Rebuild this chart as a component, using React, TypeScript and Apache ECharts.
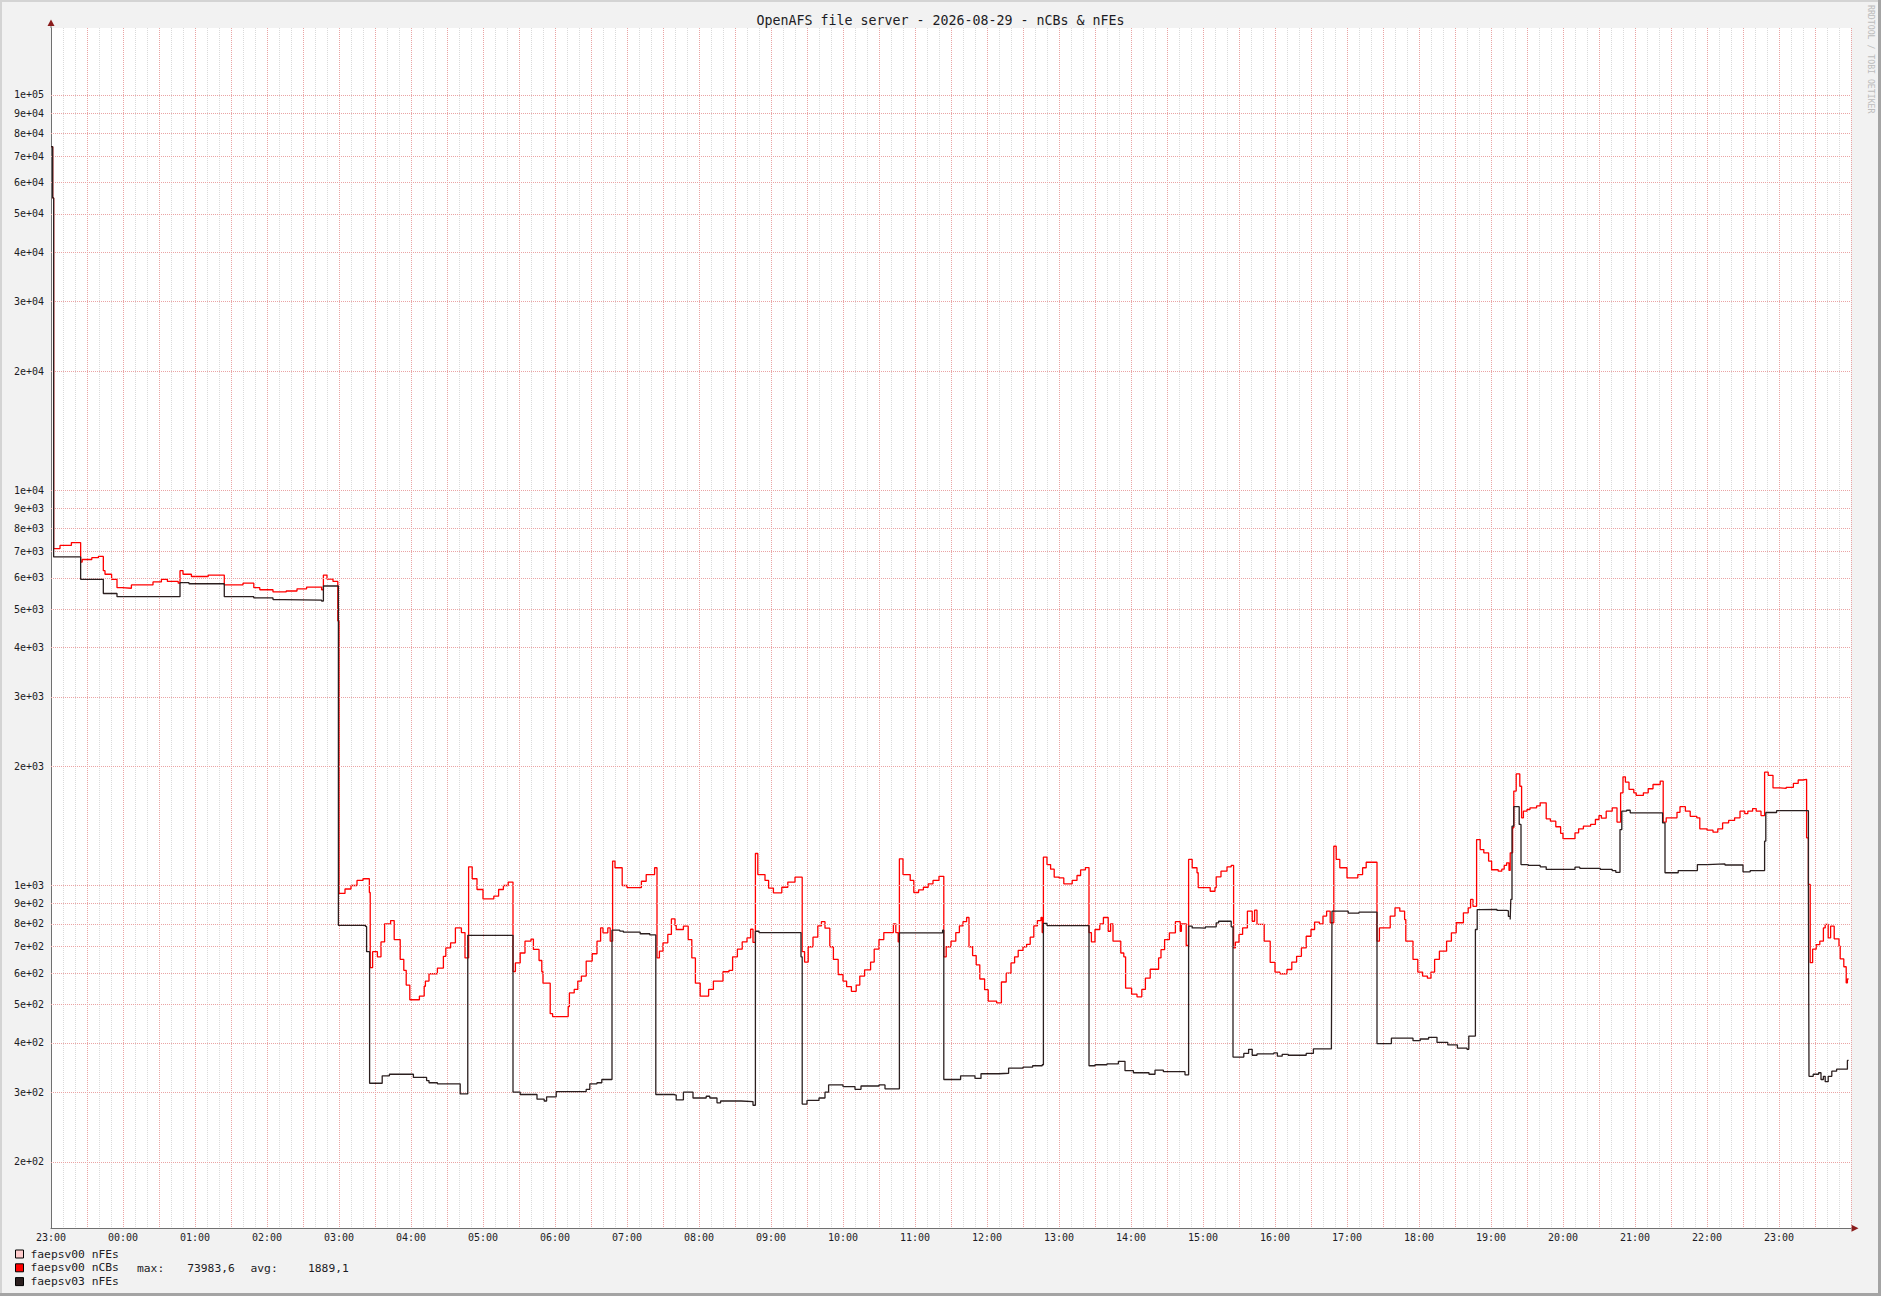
import React, { useEffect, useRef } from 'react';
import * as echarts from 'echarts';

const TITLE = 'OpenAFS file server - 2026-08-29 - nCBs & nFEs';
const WATERMARK = 'RRDTOOL / TOBI OETIKER';

// x axis: minutes since 23:00 of the previous day (25 hours shown)
const X_MIN = 0;
const X_MAX = 1500;
const HOUR_LABELS = [
  '23:00', '00:00', '01:00', '02:00', '03:00', '04:00', '05:00', '06:00', '07:00',
  '08:00', '09:00', '10:00', '11:00', '12:00', '13:00', '14:00', '15:00', '16:00',
  '17:00', '18:00', '19:00', '20:00', '21:00', '22:00', '23:00',
];

const Y_MIN = 136;
const Y_MAX = 147700;
const Y_TICKS = [
  200, 300, 400, 500, 600, 700, 800, 900,
  1000, 2000, 3000, 4000, 5000, 6000, 7000, 8000, 9000,
  10000, 20000, 30000, 40000, 50000, 60000, 70000, 80000, 90000,
  100000,
];
const Y_TICK_LABELS = [
  '2e+02', '3e+02', '4e+02', '5e+02', '6e+02', '7e+02', '8e+02', '9e+02',
  '1e+03', '2e+03', '3e+03', '4e+03', '5e+03', '6e+03', '7e+03', '8e+03', '9e+03',
  '1e+04', '2e+04', '3e+04', '4e+04', '5e+04', '6e+04', '7e+04', '8e+04', '9e+04',
  '1e+05',
];

const SERIES_NAMES = ['faepsv00 nFEs', 'faepsv00 nCBs', 'faepsv03 nFEs'];
const SERIES_COLORS = ['#ffcccc', '#ff0000', '#2b1f1f'];
const NCBS_MAX = '73983,6';
const NCBS_AVG = '1889,1';

// [minute, value]
const FAEPSV00_NFES: [number, number][] = [];

const FAEPSV00_NCBS: [number, number][] = [
  [0, 73984], [1.4, 54900], [2.2, 7120], [7.5, 7250], [17, 7370], [24.7, 6580], [26, 6680],
  [34, 6750], [39.5, 6800], [43.6, 6258], [45, 6130], [50.5, 5950], [55, 5670], [59, 5650],
  [67, 5760], [85, 5860], [92, 5950], [97, 5880], [106, 5820], [107.5, 6260], [110, 6130],
  [117, 6050], [131, 6100], [144.4, 5760], [160, 5820], [169, 5670], [174, 5600], [185, 5530],
  [196, 5560], [205, 5630], [213, 5690], [225.5, 5600], [227, 6100], [230, 5960], [235, 5880],
  [239, 4670],
  [240, 955], [245, 980], [250, 1000], [255, 1030], [260, 1040], [265.3, 960], [266, 620],
  [268, 680], [272, 660], [275, 720], [278, 800], [283, 815], [286, 730], [291, 650], [294, 610],
  [296, 560], [299, 514], [307, 525], [311, 556], [312, 573], [315, 598], [322, 618], [327, 662],
  [329, 695], [333, 716], [337, 781], [342, 760], [345, 656], [348, 1115], [351, 1040], [355, 977],
  [360, 925], [369, 940], [373, 977], [377, 1000], [381, 1020], [385, 606], [387, 637], [391, 675],
  [395, 723], [400, 732], [402, 689], [406.7, 646], [409, 605], [410, 566], [416, 474], [418, 466],
  [431, 494], [432, 535], [436, 546], [439, 573], [442, 590], [446, 644], [451, 672], [455, 723],
  [458, 781], [460, 759], [464, 781], [466, 723], [468, 1153], [470, 1109], [476, 1000], [480, 988],
  [492, 1025], [496, 1066], [503, 1109], [505, 656], [507, 682], [510, 716], [514, 752], [517, 823],
  [520, 793], [521, 774], [527, 789], [531, 730], [534, 656], [537, 566], [541, 525], [548, 546],
  [552, 573], [560, 605],
  [565, 610], [568, 660], [572, 690], [576, 720], [580, 737], [583, 775], [585, 718], [587, 1205],
  [589, 1066], [595, 1030], [598, 985], [602, 958], [609, 990], [614, 1020], [620, 1050], [626, 680],
  [628, 640], [631, 700], [635, 740], [639, 790], [642, 810], [645, 780], [649, 700], [652, 650],
  [656, 595], [660, 573], [663, 555], [667, 540], [671, 560], [674, 590], [678, 612], [683, 640],
  [686, 690], [690, 730], [694, 760], [702, 800], [704, 760], [706, 720], [707, 1168], [710, 1066],
  [716, 1030], [719, 960], [723, 975], [727, 990], [731, 1010], [735, 1030], [740, 1055], [744, 660],
  [746, 700], [750, 723], [754, 760], [757, 790], [760, 810], [763, 830], [765, 700], [768, 665],
  [771, 630], [774, 580], [778, 545], [781, 510], [788, 505], [792, 570], [796, 600], [800, 637],
  [803, 660], [806, 685], [810, 700], [813, 710], [816, 740], [819, 790], [822, 815], [825, 830],
  [826, 760], [827, 1180], [830, 1130], [833, 1100], [836, 1050], [840, 1045], [844, 1010],
  [851, 1030], [855, 1060], [858, 1095], [862, 1110], [865, 760], [867, 720], [870, 774], [874, 800],
  [877, 830],
  [881, 766], [883, 800], [885, 723], [891.5, 675], [894, 660], [895.5, 550], [900.5, 531],
  [905, 523], [909, 546], [912, 583], [916, 614], [923, 656], [925, 688], [928, 730], [932, 759],
  [937, 810], [941, 766], [942, 800], [946, 705], [948, 1164], [951, 1109], [955, 1077], [956, 988],
  [966, 967], [970, 988], [971, 1052], [975, 1087], [980, 1115], [983.5, 1124], [985.5, 695],
  [987, 719], [990, 752], [993, 781], [997, 861], [1001, 812], [1003, 866], [1005, 797], [1011, 723],
  [1016, 639], [1020, 604], [1024, 598], [1030, 613], [1034, 640], [1038, 662], [1042, 695],
  [1046, 744], [1050, 774], [1053, 808], [1057, 800], [1060, 837], [1063, 861], [1066, 805],
  [1069, 1257], [1071, 1164], [1074, 1109], [1080, 1045], [1089, 1066], [1093, 1109], [1096, 1145],
  [1105, 723], [1107, 781], [1116, 837], [1120, 878], [1124, 861], [1128, 820], [1129, 723],
  [1135, 650], [1139, 604], [1143, 590], [1147, 583], [1150, 604], [1153, 650], [1157, 682],
  [1163, 723], [1167, 759], [1171, 805], [1177, 853], [1181, 878], [1183, 922], [1185, 886],
  [1188, 1307], [1191, 1233], [1194, 1210], [1198, 1153], [1200.5, 1096], [1206, 1087], [1209, 1100],
  [1211, 1124], [1213, 1141], [1215, 1092], [1216, 1210], [1218, 1400], [1219, 1733], [1221, 1916],
  [1224, 1783], [1225.5, 1483], [1227, 1542], [1230, 1557], [1232.5, 1572], [1238, 1590],
  [1241, 1619], [1246, 1475], [1249.5, 1455], [1254, 1408], [1258, 1355], [1260, 1314], [1270, 1359],
  [1273, 1391], [1277, 1413], [1283, 1427], [1287, 1469], [1290, 1503], [1292, 1480], [1296, 1542],
  [1301, 1572], [1305, 1447], [1308, 1716], [1310, 1883], [1312, 1826], [1315, 1750], [1319, 1716],
  [1321, 1690], [1327, 1716], [1331, 1757], [1335, 1801], [1341, 1836], [1343.5, 1447], [1346, 1483],
  [1355, 1532], [1357.5, 1583], [1362, 1542], [1366, 1496], [1371.5, 1483], [1374, 1391],
  [1380, 1380], [1385, 1364], [1389, 1391], [1393, 1440], [1398, 1461], [1403, 1483], [1407.5, 1542],
  [1411.5, 1520], [1414, 1542], [1418, 1565], [1421, 1542], [1425, 1503], [1428, 1935], [1431, 1900],
  [1435, 1766], [1441, 1760], [1446, 1772], [1452, 1812], [1456, 1849], [1460, 1856], [1463, 1320],
  [1464.5, 1006], [1466, 638], [1468, 690], [1471, 709], [1474, 723], [1477, 781], [1478.5, 797],
  [1481, 737], [1483, 789], [1486, 733], [1490, 702], [1491, 652], [1494, 623], [1496, 567],
  [1497, 580], [1498, 580],
];

const FAEPSV03_NFES: [number, number][] = [
  [0, 73984], [1.4, 54900], [2.2, 6780], [24.7, 5950], [43.6, 5480], [55, 5380], [107.5, 5835],
  [115, 5800], [144.4, 5380], [169, 5340], [185, 5290], [194, 5270], [225.5, 5246], [227, 5725],
  [239.5, 793],
  [262, 788], [263, 680], [265.5, 316], [276, 330], [282, 333], [302, 327], [313, 321], [315, 317],
  [322, 315], [341, 297], [347.3, 748], [385, 300], [391, 296], [405, 288], [411, 285], [413, 292],
  [421, 301], [446, 305], [449, 315], [455, 317], [459, 323], [467.5, 771], [474, 767], [477, 762],
  [491, 755], [499, 750], [504, 296], [519, 295], [521, 287], [527, 300], [535, 290], [546, 293],
  [549, 290], [555, 282], [558, 285],
  [575, 284], [585, 278], [587, 766], [590, 760], [625, 660], [626, 280], [630, 286], [640, 290],
  [645, 300], [648, 313], [660, 310], [670, 305], [675, 311], [690, 313], [695, 306], [707, 759],
  [743, 771], [744, 323], [758, 330], [770, 325], [775, 334], [790, 335], [798, 345], [810, 347],
  [818, 350], [826, 352], [827, 802], [830, 792], [865, 350], [870, 352], [880, 354],
  [889.5, 359], [895, 340], [902, 336], [915, 333], [920, 341], [927, 338], [945, 332], [948, 789],
  [951, 781], [957, 780], [962, 786], [971, 804], [973, 812], [983.5, 786], [985, 368], [994, 376],
  [998, 385], [1001, 372], [1005, 375], [1019, 377], [1022, 370], [1026, 374], [1031, 372],
  [1046, 376], [1052, 386], [1067, 395], [1067.5, 861], [1081, 851], [1090, 856], [1105, 398],
  [1117, 411], [1135, 405], [1141, 409], [1148, 413], [1155, 401], [1164, 395], [1172, 388],
  [1180, 385], [1181.5, 416], [1187, 774], [1188.5, 869],
  [1191, 870], [1205, 865], [1213, 863], [1214.5, 835], [1216, 820], [1216.5, 922], [1217.5, 1413],
  [1219, 1583], [1223.5, 1427], [1225, 1130], [1231, 1124], [1241, 1115], [1246, 1098], [1270, 1113],
  [1274, 1105], [1291, 1098], [1301, 1091], [1304, 1080], [1307.5, 1385], [1309, 1542], [1313, 1550],
  [1316, 1527], [1343, 1440], [1345, 1077], [1356, 1091], [1372, 1130], [1380, 1134], [1395, 1127],
  [1410, 1083], [1416, 1091], [1428, 1295], [1429, 1530], [1438, 1546], [1464.5, 1002], [1465, 329],
  [1468.5, 333], [1473, 336], [1475, 323], [1477, 329], [1478.5, 319], [1481, 329], [1484, 339],
  [1488, 343], [1497, 361], [1498, 361],
];

const MONO = '"DejaVu Sans Mono", "Liberation Mono", monospace';
const TEXT_COLOR = '#1c1c24';
const MAJOR_GRID = '#eaa4a4';
const MINOR_GRID = '#dadada';
const AXIS_COLOR = '#707070';
const ARROW_COLOR = '#8a1c1c';

export default function App() {
  const ref = useRef<HTMLDivElement>(null);

  useEffect(() => {
    if (!ref.current) return;
    const chart = echarts.init(ref.current, null, { renderer: 'svg' });

    const dataSeries = [FAEPSV00_NFES, FAEPSV00_NCBS, FAEPSV03_NFES].map((d, i) => ({
      name: SERIES_NAMES[i],
      type: 'line',
      step: 'end',
      data: d,
      showSymbol: false,
      symbol: 'none',
      silent: true,
      color: SERIES_COLORS[i],
      lineStyle: { width: 1.3, color: SERIES_COLORS[i] },
      emphasis: { disabled: true },
      z: 3 + i,
    }));

    const option = {
      animation: false,
      backgroundColor: '#f2f2f2',
      title: {
        text: TITLE,
        left: 'center',
        top: 9,
        textStyle: { fontFamily: MONO, fontSize: 13.3, fontWeight: 'normal', color: TEXT_COLOR },
      },
      grid: {
        left: 51,
        top: 28,
        right: 30,
        bottom: 68,
        show: true,
        backgroundColor: '#ffffff',
        borderWidth: 0,
      },
      legend: {
        orient: 'vertical',
        left: 15,
        top: 1248,
        padding: 0,
        height: 44,
        itemWidth: 8,
        itemHeight: 8,
        itemGap: 1.8,
        icon: 'rect',
        selectedMode: false,
        data: SERIES_NAMES,
        itemStyle: { borderColor: '#000000', borderWidth: 1 },
        textStyle: { fontFamily: MONO, fontSize: 11.3, color: TEXT_COLOR, lineHeight: 12, padding: [0, 0, 0, 2] },
      },
      xAxis: {
        type: 'value',
        min: X_MIN,
        max: X_MAX,
        interval: 30,
        axisLine: { show: true, onZero: false, lineStyle: { color: AXIS_COLOR, width: 1 } },
        axisTick: { show: false },
        axisLabel: {
          margin: 4,
          fontFamily: MONO,
          fontSize: 10,
          color: TEXT_COLOR,
          hideOverlap: false,
          formatter: (v: number) => (v % 60 === 0 && v / 60 < HOUR_LABELS.length ? HOUR_LABELS[v / 60] : ''),
        },
        splitLine: { show: true, lineStyle: { color: MAJOR_GRID, type: [1, 1], width: 1 } },
        minorTick: { show: false, splitNumber: 3 },
        minorSplitLine: { show: true, lineStyle: { color: MINOR_GRID, type: [1, 1], width: 1 } },
      },
      yAxis: {
        type: 'log',
        logBase: 10,
        min: Y_MIN,
        max: Y_MAX,
        axisLine: { show: true, lineStyle: { color: AXIS_COLOR, width: 1 } },
        axisTick: { show: false },
        axisLabel: { show: false },
        splitLine: { show: false },
        minorSplitLine: { show: false },
      },
      series: [
        {
          name: 'y-grid',
          type: 'line',
          data: [],
          silent: true,
          z: 1,
          markLine: {
            silent: true,
            symbol: ['none', 'none'],
            animation: false,
            emphasis: { disabled: true },
            lineStyle: { color: MAJOR_GRID, type: [1, 1], width: 1 },
            label: {
              show: true,
              position: 'start',
              distance: 7,
              fontFamily: MONO,
              fontSize: 10,
              color: TEXT_COLOR,
              formatter: (p: any) => Y_TICK_LABELS[p.dataIndex],
            },
            data: Y_TICKS.map((v) => ({ yAxis: v })),
          },
        },
        ...dataSeries,
      ],
      graphic: [
        { type: 'rect', silent: true, shape: { x: 0, y: 0, width: 1881, height: 2 }, style: { fill: '#d4d4d4' } },
        { type: 'rect', silent: true, shape: { x: 0, y: 0, width: 2, height: 1296 }, style: { fill: '#d4d4d4' } },
        { type: 'rect', silent: true, shape: { x: 1878, y: 0, width: 3, height: 1296 }, style: { fill: '#a4a4a4' } },
        { type: 'rect', silent: true, shape: { x: 0, y: 1293, width: 1881, height: 3 }, style: { fill: '#a4a4a4' } },
        { type: 'line', silent: true, shape: { x1: 51, y1: 28, x2: 51, y2: 24 }, style: { stroke: AXIS_COLOR, lineWidth: 1 } },
        { type: 'polygon', silent: true, shape: { points: [[47.5, 26], [54.5, 26], [51, 19.5]] }, style: { fill: ARROW_COLOR } },
        { type: 'polygon', silent: true, shape: { points: [[1851.5, 1224.8], [1851.5, 1231.8], [1858.5, 1228.3]] }, style: { fill: ARROW_COLOR } },
        {
          type: 'text', silent: true, x: 1871, y: 5, rotation: -Math.PI / 2,
          style: { text: WATERMARK, font: `8.2px ${MONO}`, fill: '#bcbcbc', textAlign: 'left', textVerticalAlign: 'middle' },
        },
        {
          type: 'text', silent: true, x: 137, y: 1268,
          style: { text: 'max:', font: `11.3px ${MONO}`, fill: TEXT_COLOR, textAlign: 'left', textVerticalAlign: 'middle' },
        },
        {
          type: 'text', silent: true, x: 234.8, y: 1268,
          style: { text: NCBS_MAX, font: `11.3px ${MONO}`, fill: TEXT_COLOR, textAlign: 'right', textVerticalAlign: 'middle' },
        },
        {
          type: 'text', silent: true, x: 250.5, y: 1268,
          style: { text: 'avg:', font: `11.3px ${MONO}`, fill: TEXT_COLOR, textAlign: 'left', textVerticalAlign: 'middle' },
        },
        {
          type: 'text', silent: true, x: 348.8, y: 1268,
          style: { text: NCBS_AVG, font: `11.3px ${MONO}`, fill: TEXT_COLOR, textAlign: 'right', textVerticalAlign: 'middle' },
        },
      ],
    };

    chart.setOption(option as any);
    return () => chart.dispose();
  }, []);

  return <div ref={ref} style={{ position: 'fixed', left: 0, top: 0, width: 1881, height: 1296 }} />;
}
